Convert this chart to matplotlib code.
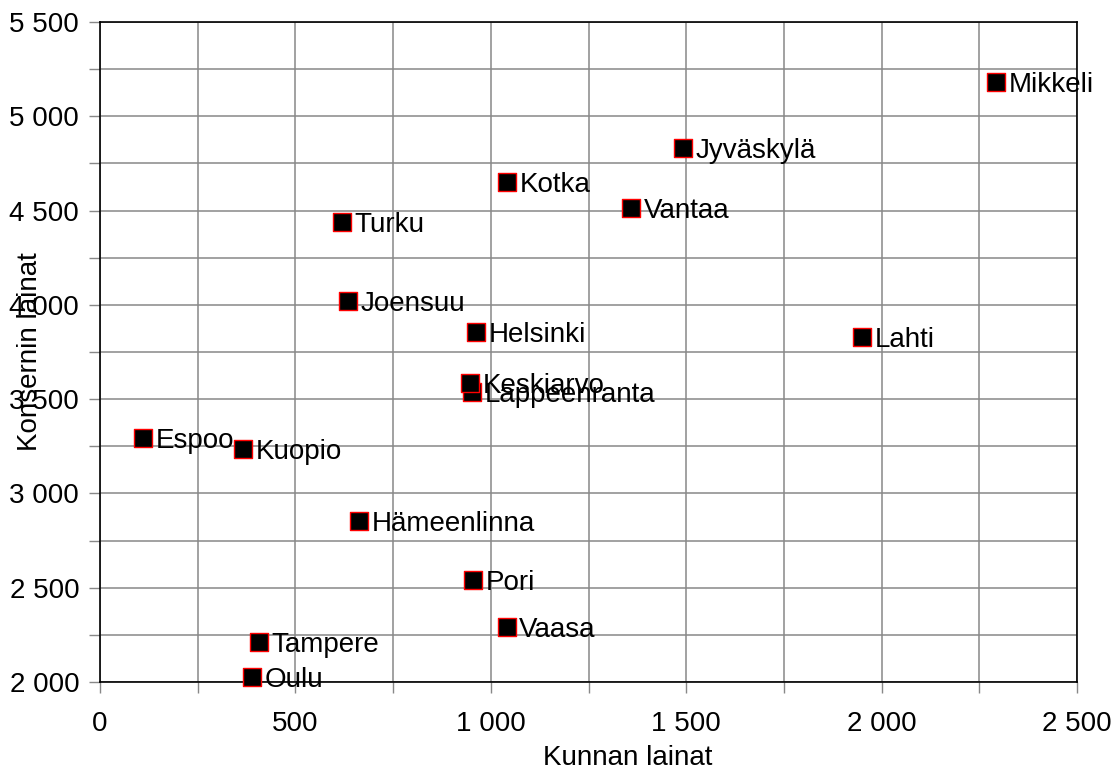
import matplotlib.pyplot as plt
from matplotlib.ticker import MultipleLocator, FuncFormatter

plt.rcParams['font.family'] = ['Liberation Sans', 'DejaVu Sans']

# Kunnan ja konsernin lainat (euroa / asukas)
cities = ['Mikkeli', 'Jyväskylä', 'Vantaa', 'Kotka', 'Turku', 'Joensuu',
          'Helsinki', 'Lahti', 'Lappeenranta', 'Keskiarvo', 'Espoo', 'Kuopio',
          'Hämeenlinna', 'Pori', 'Vaasa', 'Tampere', 'Oulu']
kunta = [2293, 1492, 1359, 1041, 619, 635, 962, 1950, 952, 947, 110, 366,
         663, 954, 1041, 407, 389]
konserni = [5182, 4832, 4514, 4652, 4439, 4020, 3856, 3830, 3538, 3586, 3294,
            3236, 2854, 2541, 2292, 2212, 2027]


def fmt(v, pos):
    return f'{int(v):,}'.replace(',', ' ')


fig = plt.figure(figsize=(11.19, 7.71), dpi=100)
ax = fig.add_axes([100 / 1119, 1 - 682 / 771, 977 / 1119, 660 / 771])

for x, y, name in zip(kunta, konserni, cities):
    ax.scatter(x, y, marker='s', s=13.5 ** 2, facecolor='black',
               edgecolor='red', linewidth=1, zorder=3, clip_on=False)
    ax.annotate(name, (x, y), xytext=(9, 0), textcoords='offset points',
                ha='left', va='center_baseline', fontsize=20, zorder=4)

ax.set_xlim(0, 2500)
ax.set_ylim(2000, 5500)
ax.xaxis.set_major_locator(MultipleLocator(500))
ax.xaxis.set_minor_locator(MultipleLocator(250))
ax.yaxis.set_major_locator(MultipleLocator(500))
ax.yaxis.set_minor_locator(MultipleLocator(250))
ax.xaxis.set_major_formatter(FuncFormatter(fmt))
ax.yaxis.set_major_formatter(FuncFormatter(fmt))

ax.grid(True, which='both', color='#888888', linewidth=1.1)
ax.set_axisbelow(True)
ax.tick_params(which='both', direction='out', length=8, width=1,
               color='#888888', labelsize=20)
ax.tick_params(axis='x', pad=13)
ax.tick_params(axis='y', pad=7)
for s in ax.spines.values():
    s.set_color('black')
    s.set_linewidth(1.2)

ax.set_xlabel('Kunnan lainat', fontsize=20)
ax.set_ylabel('Konsernin lainat', fontsize=20)
ax.xaxis.set_label_coords(0.540, -0.095)
ax.yaxis.set_label_coords(-0.058, 0.5)

fig.savefig('out.png', dpi=100)
